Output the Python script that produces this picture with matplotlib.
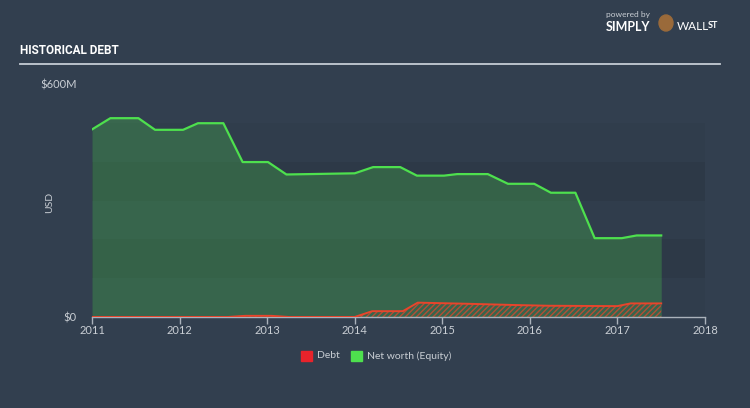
import numpy as np
import matplotlib
matplotlib.use("Agg")
from matplotlib import pyplot as plt
from matplotlib.patches import Ellipse

# Net worth (equity), USD millions
equity_t = [2011.00, 2011.21, 2011.53, 2011.72, 2012.04, 2012.21, 2012.50, 2012.72,
            2013.01, 2013.22, 2014.00, 2014.21, 2014.52, 2014.71, 2015.02, 2015.17,
            2015.52, 2015.75, 2016.05, 2016.24, 2016.52, 2016.74, 2017.05, 2017.22, 2017.50]
equity_v = [483, 512, 512, 482, 482, 499, 499, 399,
            399, 367, 370, 386, 386, 364, 364, 368,
            368, 343, 343, 320, 320, 203, 203, 210, 210]

# Debt, USD millions
debt_t = [2011.00, 2012.55, 2012.75, 2013.05, 2013.25, 2014.00, 2014.20, 2014.55,
          2014.72, 2015.30, 2015.80, 2016.20, 2017.00, 2017.15, 2017.50]
debt_v = [0, 0, 3, 3, 0, 0, 15, 15,
          37, 34, 31, 29, 28, 35, 35]

x_ticks = [2011, 2012, 2013, 2014, 2015, 2016, 2017, 2018]

BG = "#323f4f"
GREEN = "#4ee04e"
RED = "#e8452c"
TXT = "#c9ced4"
FONT = ["Lato", "DejaVu Sans"]

fig = plt.figure(figsize=(7.5, 4.08), dpi=100, facecolor=BG)
W, H = 750, 408
ax = fig.add_axes([92 / W, (H - 317) / H, (705 - 92) / W, (317 - 84) / H])
ax.set_facecolor(BG)
ax.set_xlim(2011, 2018)
ax.set_ylim(0, 600)

# banded background, subtle
band_cols = ["#303d4c", "#2d3947"]
for i in range(5):
    ax.axhspan(i * 100, (i + 1) * 100, color=band_cols[i % 2], lw=0, zorder=0)

ax.fill_between(equity_t, equity_v, color=GREEN, alpha=0.25, lw=0, zorder=1)
ax.plot(equity_t, equity_v, color=GREEN, lw=1.6, zorder=3)

ax.fill_between(debt_t, debt_v, facecolor="none", edgecolor=RED, hatch="//////", lw=0, alpha=0.7, zorder=2)
ax.plot(debt_t, debt_v, color=RED, lw=1.4, zorder=4)

for s in ["top", "right", "left"]:
    ax.spines[s].set_visible(False)
ax.spines["bottom"].set_color("#aab2bb")
ax.spines["bottom"].set_linewidth(1.0)
ax.set_xticks(x_ticks)
ax.set_xticklabels([str(t) for t in x_ticks])
ax.tick_params(axis="x", colors="#aab2bb", length=5, width=1, labelcolor=TXT, labelsize=8, pad=1)
ax.set_yticks([0, 600])
ax.set_yticklabels(["$0", "$600M"])
ax.tick_params(axis="y", length=0, labelcolor=TXT, labelsize=8, pad=11)
for lab in ax.get_xticklabels() + ax.get_yticklabels():
    lab.set_family(FONT)

fig.text(50 / W, 1 - 202 / H, "USD", rotation=90, color=TXT, fontsize=7.5,
         ha="center", va="center", family=FONT)

# title and rule
fig.text(20 / W, 1 - 51 / H, "HISTORICAL DEBT", color="white", fontsize=8.5, fontweight="bold",
         ha="left", va="center", family=["Liberation Sans Narrow", "Roboto", "DejaVu Sans"])
fig.add_artist(plt.Line2D([20 / W, 720 / W], [1 - 64 / H, 1 - 64 / H], color="#c5ccd4", lw=1.3))

# logo text
fig.text(606 / W, 1 - 15 / H, "powered by", color="#c9ced4", fontsize=6, ha="left", va="center",
         family=FONT)
fig.text(606 / W, 1 - 27 / H, "SIMPLY", color="white", fontsize=9, fontweight="bold", ha="left",
         va="center", family=FONT)
fig.patches.append(Ellipse((666 / W, 1 - 23 / H), 14 / W, 16 / H, color="#9a6a3a",
                           transform=fig.transFigure))
fig.text(677 / W, 1 - 27 / H, "WALL", color="white", fontsize=8.5, ha="left", va="center",
         family=FONT)
fig.text(708 / W, 1 - 26 / H, "ST", color="white", fontsize=6.5, fontweight="bold", ha="left",
         va="center", family=FONT)

# legend
fig.patches.append(plt.Rectangle((301 / W, 1 - 361 / H), 11 / W, 10 / H, color="#e8232b",
                                 transform=fig.transFigure))
fig.text(317 / W, 1 - 356 / H, "Debt", color=TXT, fontsize=7.5, ha="left", va="center",
         family=FONT)
fig.patches.append(plt.Rectangle((351 / W, 1 - 361 / H), 11 / W, 10 / H, color="#4ee04e",
                                 transform=fig.transFigure))
fig.text(367 / W, 1 - 356 / H, "Net worth (Equity)", color=TXT, fontsize=7.5, ha="left",
         va="center", family=FONT)

fig.savefig("out.png", dpi=100, facecolor=BG)
